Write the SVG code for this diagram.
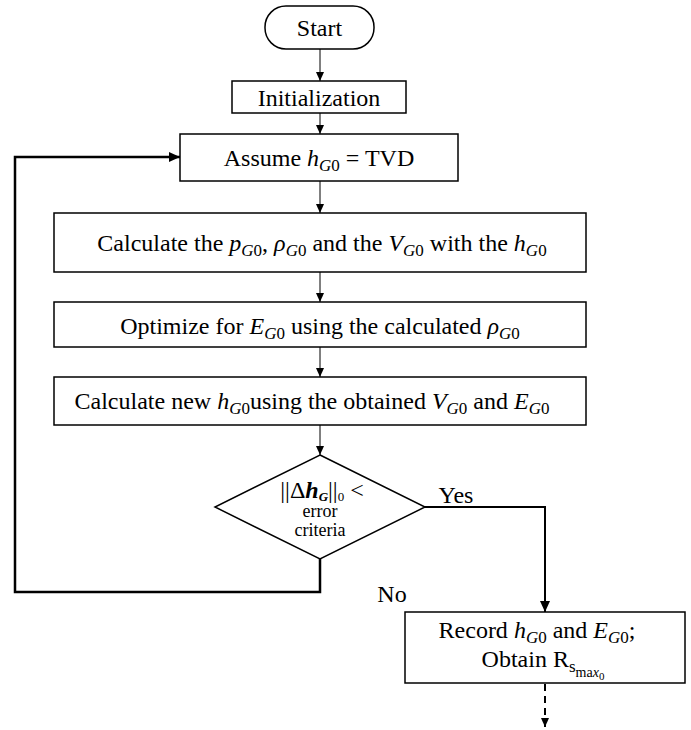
<svg xmlns="http://www.w3.org/2000/svg" width="691" height="730" viewBox="0 0 691 730">
<style>
text{font-family:"Liberation Serif","Times New Roman",serif;font-size:24px;fill:#000;text-anchor:middle}
.i{font-style:italic}
.b{font-weight:bold}
.s{font-size:17px}
.ss{font-size:14px}
.d{font-size:18px}
.box{fill:#fff;stroke:#000;stroke-width:1.5}
.thin{fill:none;stroke:#000;stroke-width:1}
.thick{fill:none;stroke:#000;stroke-width:2}
.loop{fill:none;stroke:#000;stroke-width:2.5}
</style>
<defs>
<marker id="a" markerUnits="userSpaceOnUse" markerWidth="10" markerHeight="10" refX="9" refY="5" orient="auto"><path d="M0,1 L9,5 L0,9 Z" fill="#000"/></marker>
<marker id="A" markerUnits="userSpaceOnUse" markerWidth="12" markerHeight="12" refX="11" refY="6" orient="auto"><path d="M0,1 L11,6 L0,11 Z" fill="#000"/></marker>
</defs>
<rect width="691" height="730" fill="#fff"/>
<g id="connectors">
<line class="thin" x1="320" y1="49" x2="320" y2="81" marker-end="url(#a)"/>
<line class="thin" x1="320" y1="113" x2="320" y2="134" marker-end="url(#a)"/>
<line class="thin" x1="320" y1="181" x2="320" y2="213" marker-end="url(#a)"/>
<line class="thin" x1="320" y1="272" x2="320" y2="302" marker-end="url(#a)"/>
<line class="thin" x1="320" y1="347" x2="320" y2="377" marker-end="url(#a)"/>
<line class="thin" x1="320" y1="425" x2="320" y2="455" marker-end="url(#a)"/>
<polyline class="thick" points="425,507 545,507 545,612" marker-end="url(#A)"/>
<polyline class="loop" points="320,559 320,592 15,592 15,157 180,157" marker-end="url(#A)"/>
<line class="thick" x1="545" y1="684" x2="545" y2="727" stroke-dasharray="7,5" marker-end="url(#a)"/>
<text x="456" y="503">Yes</text>
<text x="392" y="602">No</text>
</g>
<g id="start">
<rect class="box" x="265" y="6" width="109" height="43" rx="21" ry="21"/>
<text x="319.5" y="36">Start</text>
</g>
<g id="init">
<rect class="box" x="232" y="81" width="174" height="32"/>
<text x="319" y="106">Initialization</text>
</g>
<g id="assume">
<rect class="box" x="180" y="134" width="278" height="47"/>
<text x="319" y="166">Assume <tspan class="i">h</tspan><tspan class="s i" dy="5">G</tspan><tspan class="s">0</tspan><tspan dy="-5"> = TVD</tspan></text>
</g>
<g id="calc1">
<rect class="box" x="54" y="213" width="532" height="59"/>
<text x="322" y="251">Calculate the <tspan class="i">p</tspan><tspan class="s i" dy="5">G</tspan><tspan class="s">0</tspan><tspan dy="-5">, </tspan><tspan class="i">ρ</tspan><tspan class="s i" dy="5">G</tspan><tspan class="s">0</tspan><tspan dy="-5"> and the </tspan><tspan class="i">V</tspan><tspan class="s i" dy="5">G</tspan><tspan class="s">0</tspan><tspan dy="-5"> with the </tspan><tspan class="i">h</tspan><tspan class="s i" dy="5">G</tspan><tspan class="s">0</tspan></text>
</g>
<g id="optimize">
<rect class="box" x="54" y="302" width="532" height="45"/>
<text x="320" y="334">Optimize for <tspan class="i">E</tspan><tspan class="s i" dy="5">G</tspan><tspan class="s">0</tspan><tspan dy="-5"> using the calculated </tspan><tspan class="i">ρ</tspan><tspan class="s i" dy="5">G</tspan><tspan class="s">0</tspan></text>
</g>
<g id="calc2">
<rect class="box" x="54" y="377" width="532" height="48"/>
<text x="312" y="409">Calculate new <tspan class="i">h</tspan><tspan class="s i" dy="5">G</tspan><tspan class="s">0</tspan><tspan dy="-5">using the obtained </tspan><tspan class="i">V</tspan><tspan class="s i" dy="5">G</tspan><tspan class="s">0</tspan><tspan dy="-5"> and </tspan><tspan class="i">E</tspan><tspan class="s i" dy="5">G</tspan><tspan class="s">0</tspan></text>
</g>
<g id="decision">
<polygon class="box" points="320,455 425,507 320,559 215,507"/>
<text x="322" y="498" font-size="20">||Δ<tspan class="i b">h</tspan><tspan class="i b" font-size="13" dy="3">G</tspan><tspan dy="-3">||</tspan><tspan font-size="13" dy="3">0</tspan><tspan dy="-3"> &lt;</tspan></text>
<text class="d" x="320" y="517">error</text>
<text class="d" x="320" y="536">criteria</text>
</g>
<g id="record">
<rect class="box" x="405" y="612" width="280" height="71"/>
<text x="537" y="638">Record <tspan class="i">h</tspan><tspan class="s i" dy="5">G</tspan><tspan class="s">0</tspan><tspan dy="-5"> and </tspan><tspan class="i">E</tspan><tspan class="s i" dy="5">G</tspan><tspan class="s">0</tspan><tspan dy="-5">;</tspan></text>
<text x="543" y="667">Obtain R<tspan class="s" dy="5">s</tspan><tspan class="ss" dy="5">ma</tspan><tspan class="ss i">x</tspan><tspan font-size="11" dy="3">0</tspan></text>
</g>
</svg>
